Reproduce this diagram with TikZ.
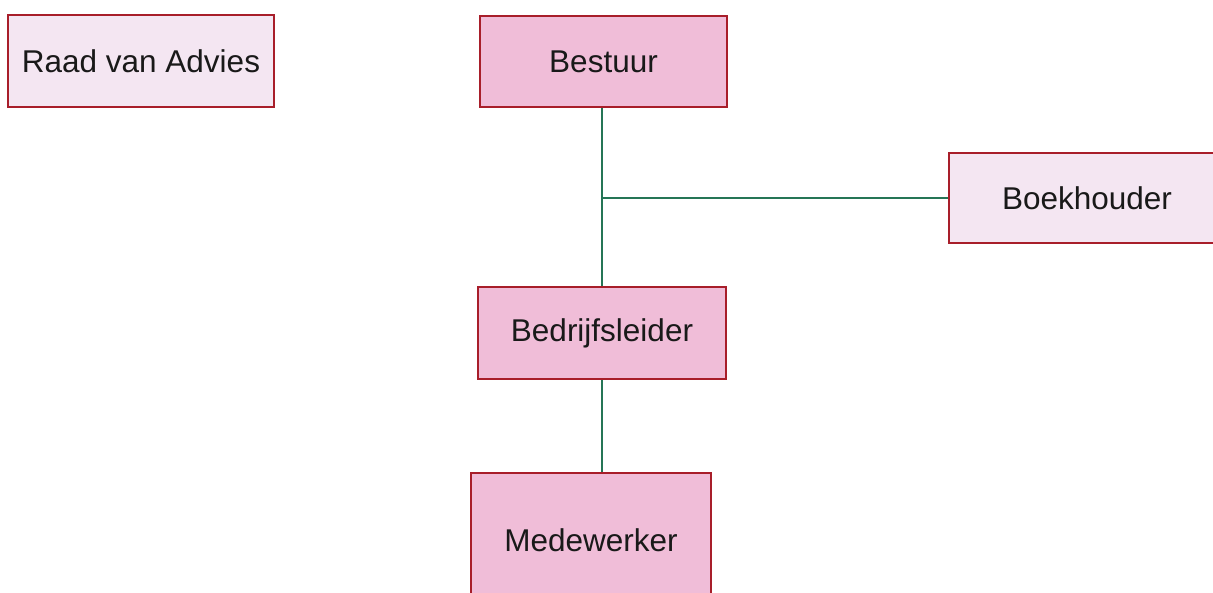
\documentclass[tikz,border=0pt]{standalone}
\usepackage{fontspec}
\setmainfont{Liberation Sans}
\definecolor{lightfill}{HTML}{F4E6F2}
\definecolor{pinkfill}{HTML}{F0BDD8}
\definecolor{boxborder}{HTML}{A81E2A}
\definecolor{linkgreen}{HTML}{257556}
\begin{document}
\begin{tikzpicture}[x=1pt,y=-1pt,
  orgbox/.style={draw=boxborder,line width=2.4pt,rectangle,inner sep=0pt,
    font=\fontsize{31.5}{36}\selectfont,text=black!90},
  light/.style={orgbox,fill=lightfill},
  pink/.style={orgbox,fill=pinkfill},
  link/.style={draw=linkgreen,line width=2.6pt}]
\useasboundingbox (0,0) rectangle (1213,592);
\clip (0,0) rectangle (1213,592);
\fill[white] (0,0) rectangle (1213,592);
\node[light,minimum width=266pt,minimum height=92pt] (raad) at (141,61) {Raad van Advies};
\node[pink,minimum width=247pt,minimum height=91pt] (bestuur) at (603.5,61.5) {Bestuur};
\node[light,minimum width=276pt,minimum height=90pt] (boek) at (1087,198) {Boekhouder};
\node[pink,minimum width=248pt,minimum height=92pt] (bedrijf) at (602,333) {Bedrijfsleider};
\node[pink,minimum width=240pt,minimum height=134pt] (mede) at (591,540) {Medewerker};
\draw[link] (bedrijf.north |- bestuur.south) -- (bedrijf.north);
\draw[link] (bedrijf.north |- boek.west) -- (boek.west);
\draw[link] (bedrijf.south) -- (bedrijf.south |- mede.north);
\end{tikzpicture}
\end{document}
